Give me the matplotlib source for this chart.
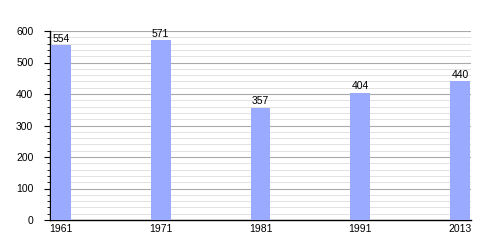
import matplotlib.pyplot as plt
from matplotlib.ticker import MultipleLocator

years = ["1961", "1971", "1981", "1991", "2013"]
population = [554, 571, 357, 404, 440]

plt.rcParams['font.family'] = ['Liberation Sans', 'DejaVu Sans']

fig = plt.figure(figsize=(5, 2.5), dpi=100)
ax = fig.add_axes([0.1, 0.12, 0.842, 0.756])

x = range(len(years))
ax.bar(x, population, width=0.2, color="#9aabff", zorder=3)
for xi, v in zip(x, population):
    ax.text(xi, v + 4, str(v), ha="center", va="bottom", fontsize=7.5)

ax.set_xlim(-0.11, 4.11)
ax.set_ylim(0, 600)
ax.set_xticks(list(x))
ax.set_xticklabels(years)
ax.yaxis.set_major_locator(MultipleLocator(100))
ax.yaxis.set_minor_locator(MultipleLocator(20))
ax.grid(axis="y", which="major", color="#aaaaaa", linewidth=0.8, zorder=0)
ax.grid(axis="y", which="minor", color="#e2e2e2", linewidth=0.7, zorder=0)
ax.set_axisbelow(True)

for s in ["top", "right"]:
    ax.spines[s].set_visible(False)
ax.spines["left"].set_linewidth(1)
ax.spines["bottom"].set_linewidth(1)
ax.tick_params(axis="x", length=0, labelsize=7.5, pad=3)
ax.tick_params(axis="y", which="major", length=4, labelsize=7.5, pad=8)
ax.tick_params(axis="y", which="minor", length=2.5)

fig.savefig("out.png", dpi=100)
